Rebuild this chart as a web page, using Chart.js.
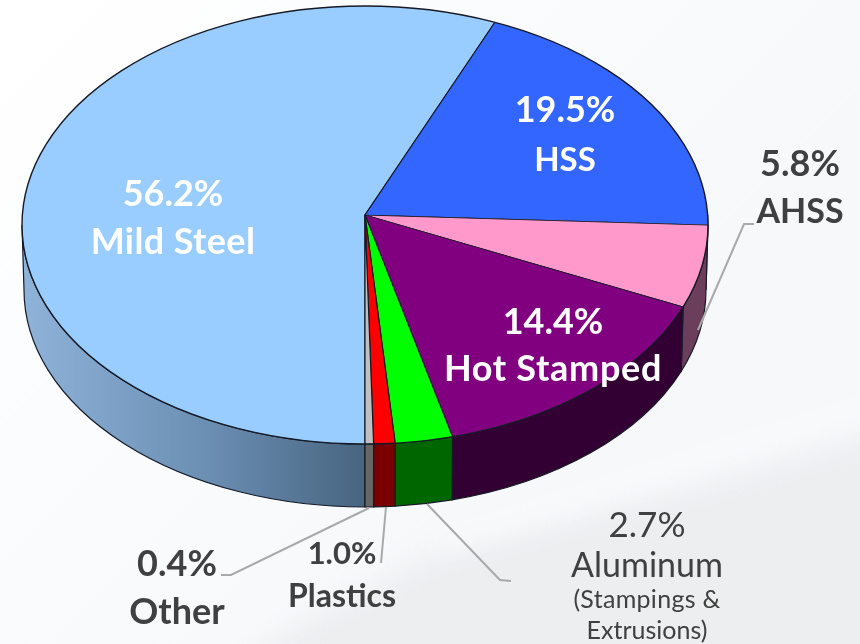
<!DOCTYPE html>
<html>
<head>
<meta charset="utf-8">
<script src="https://cdn.jsdelivr.net/npm/chart.js@4/dist/chart.umd.min.js"></script>
<style>
  html, body { margin: 0; padding: 0; background: #fff; }
  canvas { display: block; }
</style>
</head>
<body>
<canvas id="pie" width="860" height="644"></canvas>
<script>
const categories = ['Mild Steel', 'HSS', 'AHSS', 'Hot Stamped', 'Aluminum', 'Plastics', 'Other'];
const shares = [56.2, 19.5, 5.8, 14.4, 2.7, 1.0, 0.4];
const topColors = ['#99ccff', '#3366ff', '#ff99cc', '#800080', '#00ff00', '#ff0000', '#c0c0c0'];
const wallColors = [null, '#1f3f9f', '#6b3f5c', '#330033', '#006600', '#7a0000', '#666666'];

// the pie is seen in perspective: the hub is above the middle of the rim ellipse
const hub = { x: 365, y: 215 };
const rim = { x: 365, y: 225, rx: 343, ry: 219 };
const base = { x: 365, y: 290, rx: 341, ry: 217 };
const upperScale = 209 / 343;
const lowerScale = 229 / 343;

const ink = '#161a26';
const grey = '#404040';
const leaderColor = '#a9a9a9';

const labelRows = [
  { index: 0, x: 173, y: 206, color: '#fff', font: '700 36px Lato' },
  { index: 0, name: true, x: 173, y: 254, color: '#fff', font: '700 36px Lato', spacing: '0.4px' },
  { index: 1, x: 565, y: 122, color: '#fff', font: '700 36px Lato' },
  { index: 1, name: true, x: 565, y: 171, color: '#fff', font: '700 33px Lato' },
  { index: 3, x: 553, y: 334, color: '#fff', font: '700 36px Lato' },
  { index: 3, name: true, x: 553, y: 381, color: '#fff', font: '700 36px Lato', spacing: '0.7px' },
  { index: 2, x: 800, y: 176, color: grey, font: '700 36px Lato' },
  { index: 2, name: true, x: 800, y: 223, color: grey, font: '700 34px Lato' },
  { index: 6, x: 177, y: 576, color: grey, font: '700 36px Lato' },
  { index: 6, name: true, x: 177, y: 624, color: grey, font: '700 36px Lato' },
  { index: 5, x: 342, y: 564, color: grey, font: '700 31px Lato' },
  { index: 5, name: true, x: 342, y: 607, color: grey, font: '700 32px Lato' },
  { index: 4, x: 647, y: 537, color: grey, font: '400 35px Lato' },
  { index: 4, name: true, x: 647, y: 577, color: grey, font: '400 34px Lato' },
  { text: '(Stampings &', x: 647, y: 608, color: grey, font: '400 25px Lato', spacing: '0.3px' },
  { text: 'Extrusions)', x: 647, y: 639, color: grey, font: '400 25px Lato' }
];

const leaders = [
  [[698, 330], [744, 224], [754, 224]],
  [[369, 508], [231, 575], [221, 575]],
  [[386, 507], [381, 563]],
  [[427, 504], [500, 580], [511, 581]]
];

// where a ray out of the hub at canvas angle a meets the rim, as an ellipse parameter
function rimParam(a) {
  const k = Math.sin(a) >= 0 ? lowerScale : upperScale;
  const dx = Math.cos(a);
  const dy = Math.sin(a) * k * rim.rx / rim.ry;
  const oy = (hub.y - rim.y) / rim.ry;
  const A = dx * dx + dy * dy;
  const B = 2 * oy * dy;
  const C = oy * oy - 1;
  const s = (-B + Math.sqrt(B * B - 4 * A * C)) / (2 * A);
  return Math.atan2(oy + s * dy, s * dx);
}

function wallPath(ctx, t0, t1) {
  ctx.beginPath();
  ctx.ellipse(rim.x, rim.y, rim.rx, rim.ry, 0, t0, t1);
  ctx.ellipse(base.x, base.y, base.rx, base.ry, 0, t1, t0, true);
  ctx.closePath();
}

function squash(ctx, k) {
  ctx.translate(0, hub.y);
  ctx.scale(1, k);
  ctx.translate(0, -hub.y);
}

function clipFace(ctx, top, bottom) {
  ctx.beginPath();
  ctx.ellipse(rim.x, rim.y, rim.rx, rim.ry, 0, 0, Math.PI * 2);
  ctx.clip();
  ctx.beginPath();
  ctx.rect(0, top, 860, bottom - top);
  ctx.clip();
}

const backdrop = {
  id: 'backdrop',
  beforeDraw(chart) {
    const ctx = chart.ctx;
    const g = ctx.createLinearGradient(0, 0, 500, 500);
    g.addColorStop(0, '#ffffff');
    g.addColorStop(0.35, '#fcfdfe');
    g.addColorStop(1, '#f6f8fa');
    ctx.save();
    ctx.fillStyle = g;
    ctx.fillRect(0, 0, 860, 644);
    ctx.filter = 'blur(12px)';
    ctx.fillStyle = '#eceef0';
    ctx.beginPath();
    ctx.moveTo(233, 670);
    ctx.lineTo(300, 625);
    ctx.lineTo(430, 556);
    ctx.lineTo(600, 512);
    ctx.lineTo(730, 478);
    ctx.lineTo(890, 430);
    ctx.lineTo(890, 670);
    ctx.closePath();
    ctx.fill();
    ctx.strokeStyle = 'rgba(255,255,255,0.45)';
    ctx.lineWidth = 16;
    ctx.beginPath();
    ctx.moveTo(430, 548);
    ctx.lineTo(600, 492);
    ctx.lineTo(730, 450);
    ctx.lineTo(880, 405);
    ctx.stroke();
    ctx.restore();
  }
};

const pie3d = {
  id: 'pie3d',
  beforeDatasetsDraw(chart) {
    const ctx = chart.ctx;
    const arcs = chart.getDatasetMeta(0).data;
    const twoPi = Math.PI * 2;
    ctx.save();
    arcs.forEach((arc, i) => {
      [0, twoPi].forEach(shift => {
        const lo = Math.max(arc.startAngle, shift);
        const hi = Math.min(arc.endAngle, shift + Math.PI);
        if (hi <= lo) return;
        const t0 = rimParam(lo - shift);
        const t1 = hi - shift >= Math.PI ? Math.PI : rimParam(hi - shift);
        if (i === 0) {
          const g = ctx.createLinearGradient(25, 0, 365, 0);
          g.addColorStop(0, '#8fb3d8');
          g.addColorStop(0.55, '#6a8db2');
          g.addColorStop(1, '#476580');
          ctx.fillStyle = g;
        } else {
          ctx.fillStyle = wallColors[i];
        }
        ctx.strokeStyle = ink;
        ctx.lineWidth = 1.2;
        wallPath(ctx, t0, t1);
        ctx.fill();
        ctx.stroke();
      });
    });
    ctx.restore();
    // chart.js now draws the back half of the top face, after that the front half
    ctx.save();
    clipFace(ctx, 0, hub.y);
    squash(ctx, upperScale);
  },
  afterDatasetsDraw(chart) {
    const ctx = chart.ctx;
    ctx.restore();
    ctx.save();
    clipFace(ctx, hub.y, 644);
    squash(ctx, lowerScale);
    chart.getDatasetMeta(0).controller.draw();
    ctx.restore();
    ctx.save();
    ctx.strokeStyle = ink;
    ctx.lineWidth = 1.4;
    ctx.beginPath();
    ctx.ellipse(rim.x, rim.y, rim.rx, rim.ry, 0, 0, Math.PI * 2);
    ctx.stroke();
    ctx.restore();
  },
  afterDraw(chart) {
    const ctx = chart.ctx;
    ctx.save();
    ctx.strokeStyle = leaderColor;
    ctx.lineWidth = 2;
    leaders.forEach(pts => {
      ctx.beginPath();
      pts.forEach((p, i) => i ? ctx.lineTo(p[0], p[1]) : ctx.moveTo(p[0], p[1]));
      ctx.stroke();
    });
    ctx.textAlign = 'center';
    ctx.textBaseline = 'alphabetic';
    labelRows.forEach(row => {
      let text = row.text;
      if (!text) text = row.name ? categories[row.index] : shares[row.index].toFixed(1) + '%';
      ctx.font = row.font;
      ctx.letterSpacing = row.spacing || '0px';
      ctx.fillStyle = row.color;
      ctx.fillText(text, row.x, row.y);
    });
    ctx.restore();
  }
};

new Chart(document.getElementById('pie'), {
  type: 'pie',
  data: {
    labels: categories,
    datasets: [{
      data: shares,
      backgroundColor: topColors,
      borderColor: ink,
      borderWidth: 1.2,
      radius: 352,
      clip: false
    }]
  },
  options: {
    responsive: false,
    animation: false,
    rotation: 180,
    layout: { padding: { left: 0, top: 0, right: 130, bottom: 214 } },
    plugins: { legend: { display: false }, tooltip: { enabled: false } }
  },
  plugins: [backdrop, pie3d]
});
</script>
</body>
</html>
